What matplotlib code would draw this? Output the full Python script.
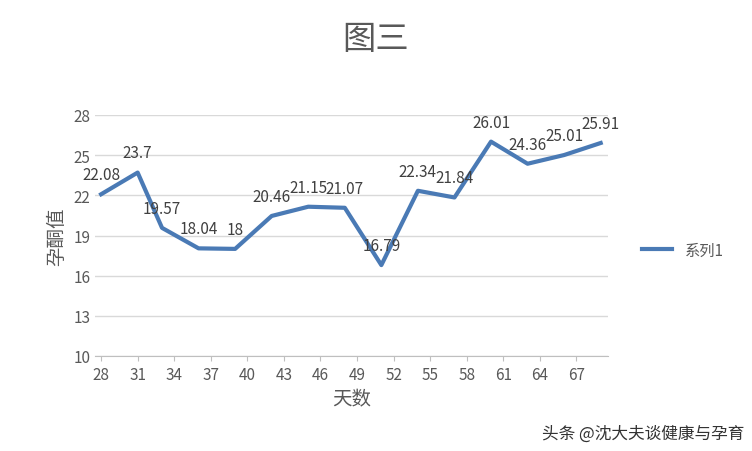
import matplotlib
matplotlib.use("Agg")
import matplotlib.pyplot as plt

plt.rcParams['font.family'] = ['Noto Sans CJK SC', 'DejaVu Sans']

days = [28, 31, 33, 36, 39, 42, 45, 48, 51, 54, 57, 60, 63, 66, 69]
values = [22.08, 23.7, 19.57, 18.04, 18, 20.46, 21.15, 21.07, 16.79, 22.34, 21.84, 26.01, 24.36, 25.01, 25.91]
labels = ['22.08', '23.7', '19.57', '18.04', '18', '20.46', '21.15', '21.07', '16.79', '22.34', '21.84', '26.01', '24.36', '25.01', '25.91']
xticks = list(range(28, 68, 3))
yticks = [10, 13, 16, 19, 22, 25, 28]

fig = plt.figure(figsize=(7.52, 4.52), dpi=100)
ax = fig.add_axes([95/752, 95/452, 513/752, 241/452])
line, = ax.plot(days, values, color='#4a7ab5', lw=3, label='系列1')
for d, v, t in zip(days, values, labels):
    ax.annotate(t, (d, v), xytext=(0, 8), textcoords='offset points', ha='center', va='bottom',
                fontsize=11, color='#404040')
ax.set_xlim(27.5, 69.6)
ax.set_ylim(10, 28)
ax.set_xticks(xticks)
ax.set_yticks(yticks)
ax.grid(axis='y', color='#d9d9d9', lw=1)
ax.set_axisbelow(True)
for s in ['top', 'right', 'left']:
    ax.spines[s].set_visible(False)
ax.spines['bottom'].set_color('#bfbfbf')
ax.tick_params(axis='y', length=0, labelsize=11, labelcolor='#595959')
ax.tick_params(axis='x', color='#bfbfbf', labelsize=11, labelcolor='#595959')
ax.set_xlabel('天数', fontsize=14, color='#595959')
ax.set_ylabel('孕酮值', fontsize=14, color='#595959')
fig.text(0.5, 1-40/452, '图三', ha='center', va='center', fontsize=24, color='#595959')
fig.legend(handles=[line], loc='center left', bbox_to_anchor=(628/752, 1-251/452), frameon=False,
           fontsize=11, labelcolor='#595959', handlelength=2)
fig.text(0.99, 0.03, '头条 @沈大夫谈健康与孕育', ha='right', fontsize=12, color='#333333')
fig.savefig('out.png')
